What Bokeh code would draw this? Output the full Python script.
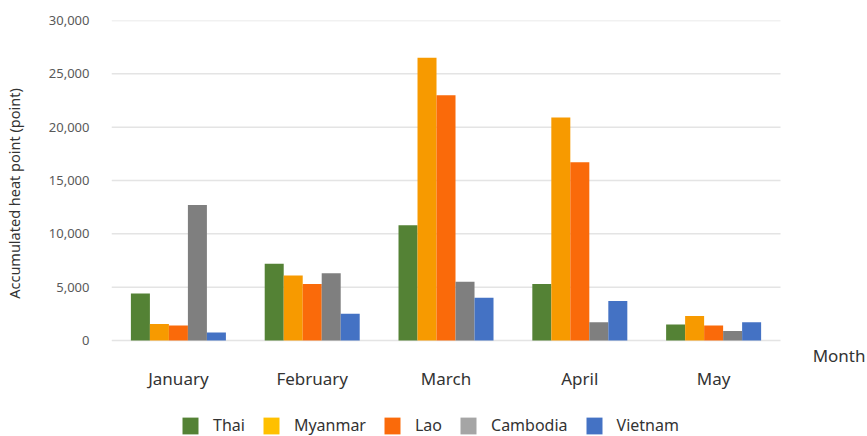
from bokeh.plotting import figure
from bokeh.layouts import column
from bokeh.models import (ColumnDataSource, Range1d, FixedTicker,
                          NumeralTickFormatter, Legend, LegendItem)
from bokeh.core.properties import value
from bokeh.embed import file_html
from bokeh.resources import INLINE

months = ["January", "February", "March", "April", "May"]
series = ["Thai", "Myanmar", "Lao", "Cambodia", "Vietnam"]
thai = [4400, 7200, 10800, 5300, 1500]
myanmar = [1550, 6100, 26500, 20900, 2300]
lao = [1400, 5300, 23000, 16700, 1400]
cambodia = [12700, 6300, 5500, 1700, 900]
vietnam = [750, 2500, 4000, 3700, 1700]
y_ticks = [0, 5000, 10000, 15000, 20000, 25000, 30000]
x_title = "Month"
y_title = "Accumulated heat point (point)"

bar_colors = ["#548235", "#F79A00", "#FA6A0A", "#7F7F7F", "#4472C4"]
legend_colors = ["#548235", "#FFC000", "#FA6A0A", "#A5A5A5", "#4472C4"]

FONT = "Noto Sans"
n = len(months)
centers = [i + 0.5 for i in range(n)]
data = dict(Thai=thai, Myanmar=myanmar, Lao=lao, Cambodia=cambodia, Vietnam=vietnam)

p = figure(width=867, height=404, x_range=Range1d(0, n + 0.65),
           y_range=Range1d(-2437.5, 30000), output_backend="svg",
           toolbar_location=None, min_border_left=108, min_border_right=0,
           min_border_top=20, min_border_bottom=38)
p.outline_line_color = None
p.xgrid.grid_line_color = None
p.ygrid.grid_line_color = None

# horizontal gridlines spanning the category area
p.segment(x0=[0] * len(y_ticks), x1=[n] * len(y_ticks), y0=y_ticks, y1=y_ticks,
          line_color="#E4E4E4", line_width=1.5)

offsets = [-0.284, -0.142, 0.0, 0.142, 0.284]
for name, off, bc in zip(series, offsets, bar_colors):
    src = ColumnDataSource(dict(x=[c + off for c in centers], top=data[name]))
    p.vbar(x="x", top="top", bottom=0, width=0.142, source=src,
           fill_color=bc, line_color=None)

p.text(x=[n + 0.24], y=[-1406], text=[x_title], text_font=value(FONT),
       text_font_size="17px", text_color="#333333", text_baseline="middle",
       text_align="left")

ya = p.yaxis[0]
ya.ticker = FixedTicker(ticks=y_ticks)
ya.formatter = NumeralTickFormatter(format="0,0")
ya.axis_line_color = None
ya.major_tick_line_color = None
ya.minor_tick_line_color = None
ya.major_label_text_font = FONT
ya.major_label_text_font_size = "13px"
ya.major_label_text_color = "#595959"
ya.major_label_standoff = 16
ya.axis_label = y_title
ya.axis_label_text_font = FONT
ya.axis_label_text_font_size = "14.5px"
ya.axis_label_text_font_style = "normal"
ya.axis_label_text_color = "#333333"
ya.axis_label_standoff = 22

xa = p.xaxis[0]
xa.ticker = FixedTicker(ticks=centers)
xa.major_label_overrides = {c: m for c, m in zip(centers, months)}
xa.axis_line_color = None
xa.major_tick_line_color = None
xa.minor_tick_line_color = None
xa.major_label_text_font = FONT
xa.major_label_text_font_size = "17px"
xa.major_label_text_color = "#333333"
xa.major_label_standoff = -6

# legend strip
q = figure(width=867, height=32, x_range=Range1d(0, 1), y_range=Range1d(0, 1),
           output_backend="svg", toolbar_location=None, x_axis_type=None,
           y_axis_type=None, min_border=0)
q.outline_line_color = None
q.xgrid.grid_line_color = None
q.ygrid.grid_line_color = None
items = []
for name, lc in zip(series, legend_colors):
    r = q.quad(left=[-10], right=[-9], bottom=[-10], top=[-9], fill_color=lc,
               line_color=None)
    items.append(LegendItem(label=name, renderers=[r]))
legend = Legend(items=items, orientation="horizontal", location=(69, 0),
                label_text_font=FONT, label_text_font_size="16px",
                label_text_color="#333333", glyph_width=20, glyph_height=21,
                label_standoff=13, spacing=16, border_line_color=None,
                background_fill_alpha=0, padding=0, margin=0)
q.add_layout(legend)

layout = column(p, q, spacing=0)
open("out.html", "w").write(file_html(layout, INLINE))
